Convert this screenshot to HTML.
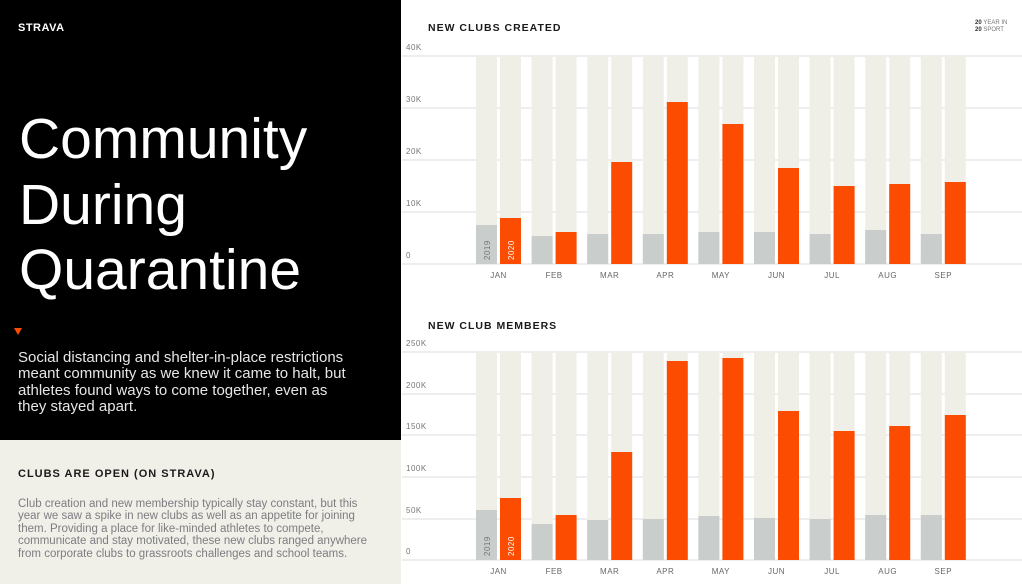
<!DOCTYPE html>
<html><head><meta charset="utf-8"><style>
html,body{margin:0;padding:0;width:1022px;height:584px;overflow:hidden;background:#fff}
svg{display:block;font-family:"Liberation Sans",sans-serif}
</style></head><body>
<svg width="1022" height="584" viewBox="0 0 1022 584" xmlns="http://www.w3.org/2000/svg">
<rect x="0" y="0" width="401" height="440" fill="#000"/>
<rect x="0" y="440" width="401" height="144" fill="#f0efe8"/>
<text x="18" y="31" fill="#fff" font-size="11" font-weight="bold" letter-spacing="0.5">STRAVA</text>
<g fill="#fff" font-size="57">
<text x="19" y="158">Community</text>
<text x="19" y="224">During</text>
<text x="19" y="289">Quarantine</text>
</g>
<polygon points="14,328 22,328 18,335" fill="#fc4c02"/>
<g fill="#e6e6e6" font-size="15">
<text x="18" y="362">Social distancing and shelter-in-place restrictions</text>
<text x="18" y="378">meant community as we knew it came to halt, but</text>
<text x="18" y="395">athletes found ways to come together, even as</text>
<text x="18" y="411">they stayed apart.</text>
</g>
<text x="18" y="477" fill="#1a1a1a" font-size="11" font-weight="bold" letter-spacing="1">CLUBS ARE OPEN (ON STRAVA)</text>
<g fill="#7d7d82" font-size="11.5">
<text x="18" y="507">Club creation and new membership typically stay constant, but this</text>
<text x="18" y="519">year we saw a spike in new clubs as well as an appetite for joining</text>
<text x="18" y="532">them. Providing a place for like-minded athletes to compete,</text>
<text x="18" y="544">communicate and stay motivated, these new clubs ranged anywhere</text>
<text x="18" y="557">from corporate clubs to grassroots challenges and school teams.</text>
</g>
<text x="428" y="31" fill="#1a1a1a" font-size="10.5" font-weight="bold" letter-spacing="1">NEW CLUBS CREATED</text>
<text x="428" y="329" fill="#1a1a1a" font-size="10.5" font-weight="bold" letter-spacing="1">NEW CLUB MEMBERS</text>
<g font-size="6" font-weight="bold" fill="#333"><text x="975" y="24">20 <tspan font-weight="normal" fill="#777">YEAR IN</tspan></text><text x="975" y="31">20 <tspan font-weight="normal" fill="#777">SPORT</tspan></text></g>
<g id="c"></g>
</svg>
<script>
var ns="http://www.w3.org/2000/svg",g=document.getElementById('c');
function el(t,a,txt){var e=document.createElementNS(ns,t);for(var k in a)e.setAttribute(k,a[k]);if(txt)e.textContent=txt;g.appendChild(e);return e;}
var months=["JAN","FEB","MAR","APR","MAY","JUN","JUL","AUG","SEP"];
function chart(top,bottom,labels,ys,vals){
  for(var i=0;i<labels.length;i++){
    el('line',{x1:402,x2:1022,y1:ys[i],y2:ys[i],stroke:'#dedede','stroke-width':1});
    el('text',{x:406,y:ys[i]-6,'font-size':8,fill:'#777','letter-spacing':'0.5'},labels[i]);
  }
  for(var m=0;m<9;m++){
    var x=476+m*55.6;
    el('rect',{x:x,y:top,width:21,height:bottom-top,fill:'#f0efe7'});
    el('rect',{x:x+24,y:top,width:21,height:bottom-top,fill:'#f0efe7'});
    el('rect',{x:x,y:vals[m][0],width:21,height:bottom-vals[m][0],fill:'#c9cdcc'});
    el('rect',{x:x+24,y:vals[m][1],width:21,height:bottom-vals[m][1],fill:'#fc4c02'});
    el('text',{x:x+22.5,y:bottom+14,'font-size':8,fill:'#666','text-anchor':'middle','letter-spacing':'0.5'},months[m]);
  }
  var x0=476;
  el('text',{transform:'translate('+(x0+14)+','+(bottom-4)+') rotate(-90)','font-size':8,fill:'#777','letter-spacing':'0.5'},'2019');
  el('text',{transform:'translate('+(x0+38)+','+(bottom-4)+') rotate(-90)','font-size':8,fill:'#fff','letter-spacing':'0.5'},'2020');
}
chart(56,264,["40K","30K","20K","10K","0"],[56,108,160,212,264],
 [[225,218],[236,232],[234,162],[234,102],[232,124],[232,168],[234,186],[230,184],[234,182]]);
chart(352,560,["250K","200K","150K","100K","50K","0"],[352,394,435,477,519,560],
 [[510,498],[524,515],[520,452],[519,361],[516,358],[518,411],[519,431],[515,426],[515,415]]);
</script>
</body></html>
